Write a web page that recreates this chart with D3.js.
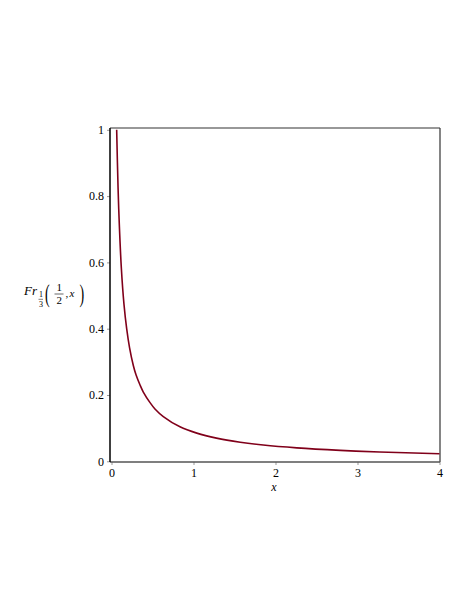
<!DOCTYPE html>
<html>
<head>
<meta charset="utf-8">
<script src="https://cdn.jsdelivr.net/npm/d3@7"></script>
<style>
  body { margin: 0; background: #fff; }
  svg { font-family: "Liberation Serif", "DejaVu Serif", serif; }
</style>
</head>
<body>
<svg width="476" height="616"></svg>
<script>
// curve points
var xs = [0.063, 0.08, 0.095, 0.12, 0.152, 0.185, 0.22, 0.266, 0.30, 0.348, 0.388, 0.47, 0.53, 0.632, 0.835, 1.04, 1.28, 1.57, 1.85, 2.26, 2.79, 3.27, 4.0];
var ys = [1.0, 0.825, 0.716, 0.583, 0.474, 0.400, 0.343, 0.289, 0.260, 0.230, 0.209, 0.177, 0.158, 0.135, 0.104, 0.085, 0.070, 0.0576, 0.049, 0.0405, 0.033, 0.028, 0.023];
var xTicks = [0, 1, 2, 3, 4];
var yTicks = [0, 0.2, 0.4, 0.6, 0.8, 1];

var svg = d3.select("svg");
var frame = {left: 110, right: 440, top: 128, bottom: 462};
var serif = '"Liberation Serif", "DejaVu Serif", serif';

var x = d3.scaleLinear().domain([0, 4]).range([111.5, 439.5]);
var y = d3.scaleLinear().domain([0, 1]).range([461.3, 129.8]);

var data = xs.map(function(d, i) { return {x: d, y: ys[i]}; });

// clip to the frame
svg.append("clipPath").attr("id", "clip")
  .append("rect")
  .attr("x", frame.left).attr("y", frame.top)
  .attr("width", frame.right - frame.left).attr("height", frame.bottom - frame.top);

// x axis
var gx = svg.append("g")
  .attr("transform", "translate(0," + frame.bottom + ")")
  .call(d3.axisBottom(x).tickValues(xTicks).tickSize(3).tickPadding(3).tickFormat(d3.format("d")))
  .attr("font-family", serif).attr("font-size", 12);
gx.select(".domain").remove();
gx.selectAll(".tick line").attr("stroke", "#999");
gx.selectAll(".tick text").attr("fill", "#000");

// y axis
var gy = svg.append("g")
  .attr("transform", "translate(" + frame.left + ",0)")
  .call(d3.axisLeft(y).tickValues(yTicks).tickSize(3).tickPadding(3).tickFormat(function(d) { return d; }))
  .attr("font-family", serif).attr("font-size", 12);
gy.select(".domain").remove();
gy.selectAll(".tick line").attr("stroke", "#999");
gy.selectAll(".tick text").attr("fill", "#000");

// frame
svg.append("line").attr("x1", frame.left).attr("x2", frame.right).attr("y1", frame.top).attr("y2", frame.top)
  .attr("stroke", "#333").attr("stroke-width", 1.2);
svg.append("line").attr("x1", frame.right).attr("x2", frame.right).attr("y1", frame.top).attr("y2", frame.bottom)
  .attr("stroke", "#333").attr("stroke-width", 1.2);
svg.append("line").attr("x1", frame.left).attr("x2", frame.right).attr("y1", frame.bottom).attr("y2", frame.bottom)
  .attr("stroke", "#555").attr("stroke-width", 1.5);
svg.append("line").attr("x1", frame.left).attr("x2", frame.left).attr("y1", frame.top).attr("y2", frame.bottom)
  .attr("stroke", "#000").attr("stroke-width", 1.5);

// curve
var line = d3.line()
  .x(function(d) { return x(d.x); })
  .y(function(d) { return y(d.y); })
  .curve(d3.curveCatmullRom.alpha(0.5));

svg.append("path")
  .datum(data)
  .attr("clip-path", "url(#clip)")
  .attr("fill", "none")
  .attr("stroke", "#80001a")
  .attr("stroke-width", 1.6)
  .attr("d", line);

// x label
svg.append("text")
  .attr("x", 274).attr("y", 491)
  .attr("text-anchor", "middle")
  .attr("font-style", "italic")
  .attr("font-size", 12)
  .text("x");

// y label: Fr_{1/3}(1/2, x)
var lab = svg.append("g").attr("font-size", 11);
lab.append("text").attr("x", 24).attr("y", 295).attr("font-style", "italic").attr("font-size", 13).text("Fr");
lab.append("text").attr("x", 39).attr("y", 296.5).attr("font-size", 8).text("1");
lab.append("line").attr("x1", 38.5).attr("x2", 43).attr("y1", 299.3).attr("y2", 299.3).attr("stroke", "#000").attr("stroke-width", 0.5);
lab.append("text").attr("x", 39).attr("y", 306.5).attr("font-size", 8).text("3");
lab.append("text").attr("transform", "translate(45,302) scale(1,1.75)").attr("font-size", 14).text("(");
lab.append("text").attr("x", 56.5).attr("y", 291).text("1");
lab.append("line").attr("x1", 54.5).attr("x2", 63.5).attr("y1", 294).attr("y2", 294).attr("stroke", "#000").attr("stroke-width", 0.6);
lab.append("text").attr("x", 56.5).attr("y", 304).text("2");
lab.append("text").attr("x", 65.5).attr("y", 296.5).text(",");
lab.append("text").attr("x", 69.5).attr("y", 296.5).attr("font-style", "italic").text("x");
lab.append("text").attr("transform", "translate(79.5,302) scale(1,1.75)").attr("font-size", 14).text(")");
</script>
</body>
</html>
